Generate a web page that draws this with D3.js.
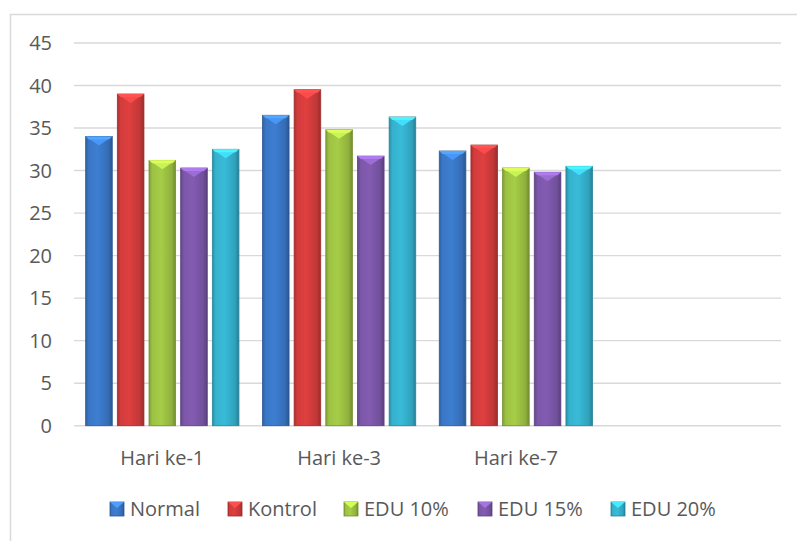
<!DOCTYPE html>
<html><head><meta charset="utf-8">
<script src="https://cdn.jsdelivr.net/npm/d3@7"></script>
<style>body{margin:0;background:#fff}svg{display:block}</style>
</head><body>
<script>
const categories = ["Hari ke-1", "Hari ke-3", "Hari ke-7", ""];
const seriesNames = ["Normal", "Kontrol", "EDU 10%", "EDU 15%", "EDU 20%"];
const normal  = [34.0, 36.5, 32.3];
const kontrol = [39.0, 39.5, 33.0];
const edu10   = [31.2, 34.8, 30.3];
const edu15   = [30.3, 31.7, 29.8];
const edu20   = [32.5, 36.3, 30.5];
const yTicks  = [0, 5, 10, 15, 20, 25, 30, 35, 40, 45];
const colors  = ["#3a77c6", "#d33c3c", "#9dc243", "#7c57a9", "#35b1cd"];

const seriesValues = [normal, kontrol, edu10, edu15, edu20];
const W = 797, H = 541;
const svg = d3.select("body").append("svg").attr("width", W).attr("height", H);
const font = "'Open Sans', sans-serif";
const fs = 20;

// outer border
svg.append("rect").attr("x", 10.5).attr("y", 14.5).attr("width", 820).attr("height", 600)
  .attr("fill", "none").attr("stroke", "#d9d9d9").attr("stroke-width", 1.5);

const x0 = d3.scaleBand().domain(categories.map((c, i) => i)).range([74, 781]).paddingInner(0.133).paddingOuter(0.066);
const x1 = d3.scaleBand().domain(seriesNames).range([0, x0.bandwidth()]).paddingInner(0.16).paddingOuter(0);
const y = d3.scaleLinear().domain([0, 45]).range([425.7, 43]);

// gridlines
svg.append("g").selectAll("line").data(yTicks).join("line")
  .attr("x1", 74).attr("x2", 781).attr("y1", d => y(d)).attr("y2", d => y(d))
  .attr("stroke", "#d9d9d9").attr("stroke-width", 1.4);

// y labels
svg.append("g").selectAll("text").data(yTicks).join("text")
  .attr("x", 52).attr("y", d => y(d)).attr("dy", "0.36em").attr("text-anchor", "end")
  .attr("font-family", font).attr("font-size", fs).attr("fill", "#595959").text(d => d);

// gradients
const defs = svg.append("defs");
colors.forEach((c, i) => {
  const g = defs.append("linearGradient").attr("id", "g" + i).attr("x1", 0).attr("x2", 1).attr("y1", 0).attr("y2", 0);
  const base = d3.color(c);
  g.append("stop").attr("offset", 0).attr("stop-color", base.darker(0.6));
  g.append("stop").attr("offset", 0.12).attr("stop-color", base);
  g.append("stop").attr("offset", 0.45).attr("stop-color", base.brighter(0.15));
  g.append("stop").attr("offset", 0.85).attr("stop-color", base.darker(0.25));
  g.append("stop").attr("offset", 1).attr("stop-color", base.darker(0.9));
});

// bars
const data = [];
seriesNames.forEach((s, si) => {
  seriesValues[si].forEach((v, ci) => data.push({ s, si, ci, v }));
});
const bars = svg.append("g").selectAll("g").data(data).join("g");
bars.append("rect")
  .attr("x", d => x0(d.ci) + x1(d.s)).attr("width", x1.bandwidth())
  .attr("y", d => y(d.v)).attr("height", d => y(0) - y(d.v))
  .attr("fill", d => "url(#g" + d.si + ")")
  .attr("stroke", d => d3.color(colors[d.si]).darker(0.8)).attr("stroke-width", 0.8);
// top bevel triangle
bars.append("path")
  .attr("d", d => {
    const xl = x0(d.ci) + x1(d.s), w = x1.bandwidth(), yt = y(d.v);
    return `M${xl},${yt}L${xl + w},${yt}L${xl + w / 2},${yt + 9}Z`;
  })
  .attr("fill", d => d3.color(colors[d.si]).brighter(0.7)).attr("opacity", 0.9);
bars.append("path")
  .attr("d", d => {
    const xl = x0(d.ci) + x1(d.s), w = x1.bandwidth(), yt = y(d.v);
    return `M${xl},${yt}L${xl + 3},${yt + 3}L${xl + w - 3},${yt + 3}L${xl + w},${yt}Z`;
  })
  .attr("fill", d => d3.color(colors[d.si]).brighter(1.1)).attr("opacity", 0.7);

// category labels
svg.append("g").selectAll("text").data(categories.slice(0, 3)).join("text")
  .attr("x", (d, i) => x0(i) + x0.bandwidth() / 2).attr("y", 465)
  .attr("text-anchor", "middle").attr("font-family", font).attr("font-size", fs)
  .attr("fill", "#595959").text(d => d);

// legend
const legendX = [110, 228, 344, 478, 611];
const lg = svg.append("g").selectAll("g").data(seriesNames).join("g")
  .attr("transform", (d, i) => `translate(${legendX[i]},502)`);
lg.append("rect").attr("width", 14).attr("height", 14)
  .attr("fill", (d, i) => "url(#g" + i + ")").attr("stroke", (d, i) => d3.color(colors[i]).darker(0.8)).attr("stroke-width", 0.8);
lg.append("path").attr("d", "M0,0L14,0L7,6Z").attr("fill", (d, i) => d3.color(colors[i]).brighter(0.8));
lg.append("text").attr("x", 20).attr("y", 7).attr("dy", "0.36em")
  .attr("font-family", font).attr("font-size", fs).attr("fill", "#595959").text(d => d);
</script>
</body></html>
